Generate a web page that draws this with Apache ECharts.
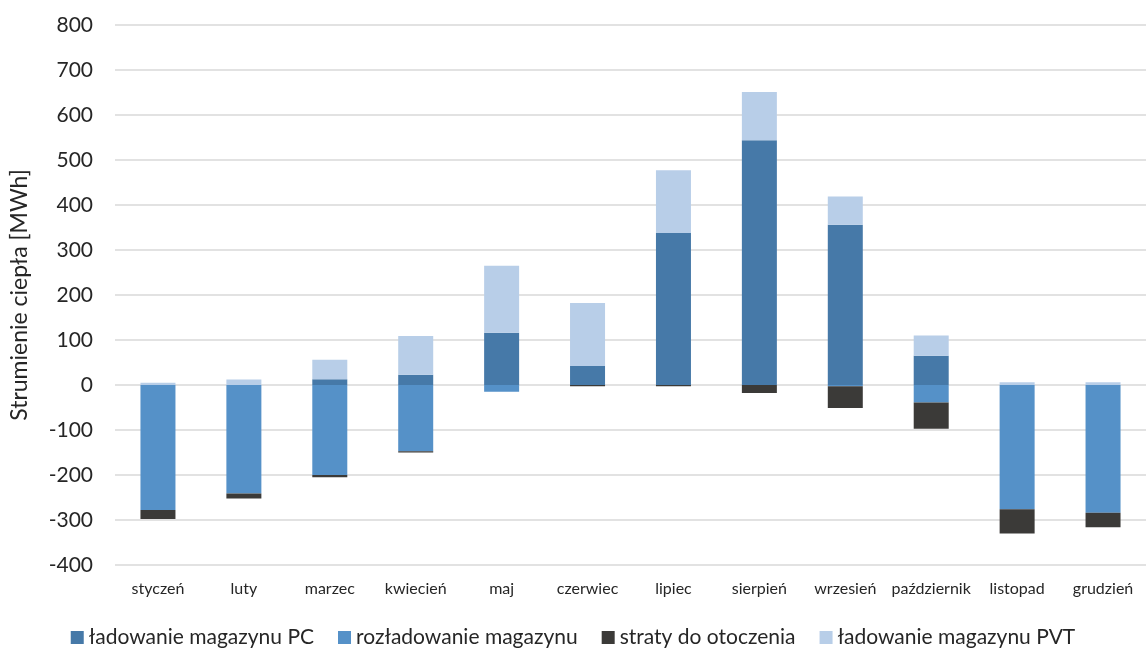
<!DOCTYPE html>
<html>
<head>
<meta charset="utf-8">
<script src="https://cdn.jsdelivr.net/npm/echarts@6/dist/echarts.min.js"></script>
<style>
  html, body { margin: 0; padding: 0; background: #ffffff; }
  #chart { width: 1146px; height: 650px; }
</style>
</head>
<body>
<div id="chart"></div>
<script>
// Monthly heat flows of the storage [MWh]
const months = ['styczeń', 'luty', 'marzec', 'kwiecień', 'maj', 'czerwiec', 'lipiec',
  'sierpień', 'wrzesień', 'październik', 'listopad', 'grudzień'];

const ladowaniePC  = [0, 0, 13, 23, 116, 42, 338, 544, 356, 65, 0, 0];
const rozladowanie = [-278, -241, -200, -147, -15, 0, 0, 0, -3, -39, -276, -284];
const straty       = [-20, -11, -5, -3, 0, -3, -3, -18, -48, -58, -54, -32];
const ladowaniePVT = [5, 12, 43, 86, 149, 140, 139, 107, 63, 45, 6, 6];

const seriesNames = ['ładowanie magazynu PC', 'rozładowanie magazynu',
  'straty do otoczenia', 'ładowanie magazynu PVT'];
const yTicks = { min: -400, max: 800, step: 100 };

const colors = ['#4679a8', '#5591c8', '#3b3a38', '#b8cee8'];
const dataSets = [ladowaniePC, rozladowanie, straty, ladowaniePVT];

const FONT = 'Lato';
const chart = echarts.init(document.getElementById('chart'), null, { renderer: 'canvas' });

chart.setOption({
  animation: false,
  backgroundColor: '#ffffff',
  grid: { left: 110, top: 25, width: 1044, height: 540, containLabel: false },
  legend: {
    data: seriesNames,
    left: 'center',
    top: 622,
    itemWidth: 13,
    itemHeight: 13,
    itemGap: 24,
    icon: 'rect',
    textStyle: { fontFamily: FONT, fontSize: 21, color: '#262626' }
  },
  xAxis: {
    type: 'category',
    data: months,
    axisLine: { show: false },
    axisTick: { show: false },
    axisLabel: {
      margin: 16,
      interval: 0,
      fontFamily: FONT,
      fontSize: 16,
      color: '#262626'
    }
  },
  yAxis: {
    type: 'value',
    min: yTicks.min,
    max: yTicks.max,
    interval: yTicks.step,
    name: 'Strumienie ciepła [MWh]',
    nameLocation: 'middle',
    nameGap: 84,
    nameTextStyle: { fontFamily: FONT, fontSize: 23, color: '#262626' },
    axisLine: { show: false },
    axisTick: { show: false },
    axisLabel: {
      margin: 22,
      fontFamily: FONT,
      fontSize: 21,
      color: '#262626'
    },
    splitLine: { lineStyle: { color: '#d9d9d9', width: 1.5 } }
  },
  series: seriesNames.map((name, i) => ({
    name: name,
    type: 'bar',
    stack: 'total',
    barWidth: 35,
    data: dataSets[i],
    itemStyle: { color: colors[i] }
  }))
});
</script>
</body>
</html>
